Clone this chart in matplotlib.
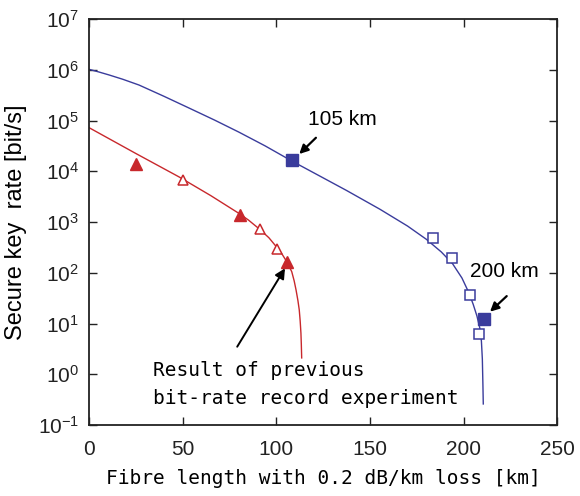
import matplotlib
matplotlib.use("Agg")
import matplotlib.pyplot as plt
from matplotlib.ticker import NullLocator, LogLocator

plt.rcParams['font.family'] = ['Liberation Sans', 'DejaVu Sans']

# theory curves
blue_x = [0, 5, 10.7, 18, 26.7, 40, 53.4, 67, 80, 94, 108.4, 120, 137.5, 155.3, 170, 180, 188, 194,
          199, 202.5, 205, 207, 208.5, 209.4, 209.9, 210.2, 210.4]
blue_y = [1.02e6, 9.1e5, 7.9e5, 6.5e5, 5.0e5, 3.0e5, 1.76e5, 1.02e5, 5.9e4, 3.16e4, 1.58e4, 9300, 4170,
          1780, 832, 457, 257, 151, 79, 42, 24, 14.1, 8.3, 4.5, 2.0, 0.63, 0.26]
red_x = [0, 25, 48, 65, 80, 85, 91, 96, 100.5, 103, 105.5, 107, 108.2, 109.5, 110.5, 111.5, 112.2,
         112.7, 113.1, 113.3, 113.5]
red_y = [72400, 22400, 7760, 3310, 1480, 1100, 724, 490, 309, 234, 166, 129, 105, 69, 45.7, 28.2,
         18.6, 11.2, 6.46, 3.98, 2.1]

# experimental points
blue_fill_x = [108.4, 210.6]
blue_fill_y = [1.66e4, 12.1]
blue_open_x = [183.6, 193.5, 203.3, 208.3]
blue_open_y = [478, 193, 36.5, 6.1]
red_fill_x = [25, 80.6, 105.5]
red_fill_y = [1.37e4, 1.37e3, 165]
red_open_x = [50, 91.2, 100.5]
red_open_y = [6.6e3, 718, 290]

blue = '#3a3c9c'
red = '#c8282c'
mono = 'DejaVu Sans Mono'

fig = plt.figure(figsize=(5.8, 4.96), dpi=100)
ax = fig.add_axes([0.1534, 0.1431, 0.8078, 0.8186])

ax.plot(blue_x, blue_y, color=blue, lw=1.0)
ax.plot(red_x, red_y, color=red, lw=1.0)
ax.plot(blue_fill_x, blue_fill_y, 's', color=blue, ms=8.5, zorder=4)
ax.plot(blue_open_x, blue_open_y, 's', mfc='white', mec=blue, mew=1.1, ms=7.5, zorder=4)
ax.plot(red_fill_x, red_fill_y, '^', color=red, ms=8.5, zorder=4)
ax.plot(red_open_x, red_open_y, '^', mfc='white', mec=red, mew=1.1, ms=7.5, zorder=4)

ax.set_yscale('log')
ax.set_xlim(0, 250)
ax.set_ylim(0.1, 1e7)
ax.yaxis.set_major_locator(LogLocator(base=10, numticks=12))
ax.yaxis.set_minor_locator(NullLocator())
ax.set_xticks([0, 50, 100, 150, 200, 250])

ax.tick_params(direction='in', length=6, width=1, top=True, right=True, labelsize=15, colors='#222222')
ax.tick_params(axis='x', pad=11)
ax.tick_params(axis='y', pad=7)
for s in ax.spines.values():
    s.set_linewidth(1.3)
    s.set_color('#222222')

ax.set_ylabel('Secure key  rate [bit/s]', fontsize=17, labelpad=8)
ax.set_xlabel('Fibre length with 0.2 dB/km loss [km]', fontsize=14, family=mono, labelpad=7)

arw = dict(arrowstyle='-|>', color='black', lw=1.6, mutation_scale=13, shrinkA=0, shrinkB=0)
ax.text(117, 10**5.01, '105 km', fontsize=15, va='center', ha='left')
ax.annotate('', xy=(112.2, 10**4.34), xytext=(121.1, 10**4.66), arrowprops=arw)
ax.text(203.3, 10**2.02, '200 km', fontsize=15, va='center', ha='left')
ax.annotate('', xy=(214, 10**1.233), xytext=(222.9, 10**1.54), arrowprops=arw)
ax.annotate('', xy=(104.6, 10**2.088), xytext=(79.1, 10**0.543),
            arrowprops=dict(arrowstyle='-|>', color='black', lw=1.4, mutation_scale=15, shrinkA=0, shrinkB=0))
ax.text(34.2, 10**0.084, 'Result of previous', fontsize=14, family=mono, va='center', ha='left')
ax.text(34.2, 10**-0.468, 'bit-rate record experiment', fontsize=14, family=mono, va='center', ha='left')

fig.savefig('out.png', dpi=100)
